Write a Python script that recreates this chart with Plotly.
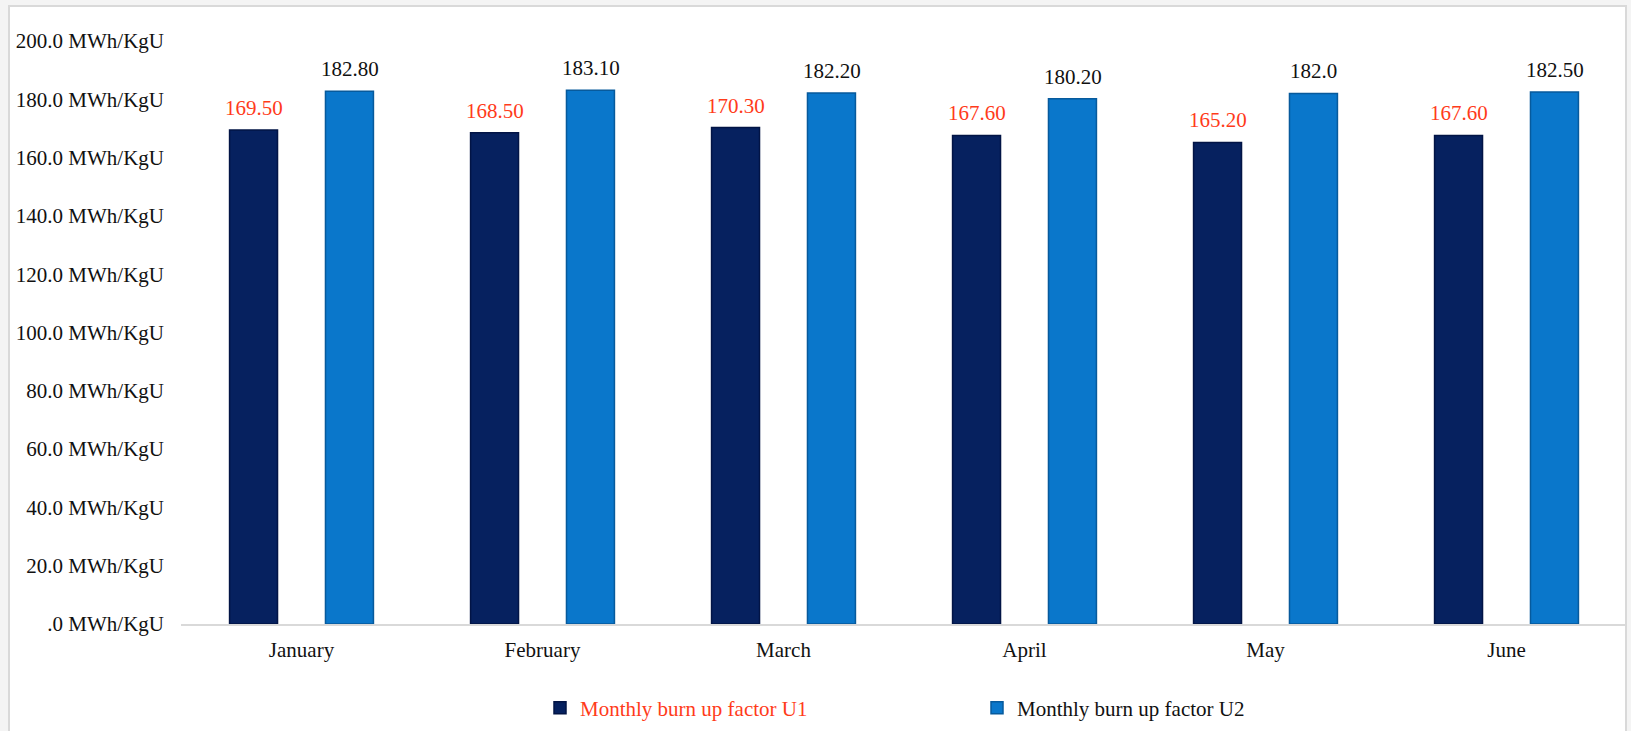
import plotly.graph_objects as go

months = ["January", "February", "March", "April", "May", "June"]
u1_values = [169.5, 168.5, 170.3, 167.6, 165.2, 167.6]
u2_values = [182.8, 183.1, 182.2, 180.2, 182.0, 182.5]
u1_labels = ["169.50", "168.50", "170.30", "167.60", "165.20", "167.60"]
u2_labels = ["182.80", "183.10", "182.20", "180.20", "182.0", "182.50"]
y_tickvals = [0, 20, 40, 60, 80, 100, 120, 140, 160, 180, 200]
y_ticktext = [".0 MWh/KgU", "20.0 MWh/KgU", "40.0 MWh/KgU", "60.0 MWh/KgU", "80.0 MWh/KgU",
              "100.0 MWh/KgU", "120.0 MWh/KgU", "140.0 MWh/KgU", "160.0 MWh/KgU",
              "180.0 MWh/KgU", "200.0 MWh/KgU"]

RED = "#ff3b1a"
FONT = "Liberation Serif, Times New Roman, serif"
W, H = 1631, 731
L, R, T, B = 181, 4, 41, 106
pw, ph = W - L - R, H - T - B

def px_x(px):
    return (px - L) / pw

def px_y(py):
    return (H - B - py) / ph

fig = go.Figure()
fig.add_trace(go.Bar(
    x=months, y=u1_values, name='<span style="color:%s">Monthly burn up factor U1</span>' % RED,
    marker=dict(color="#06215f", line=dict(color="#021445", width=1.5)),
))
fig.add_trace(go.Bar(
    x=months, y=u2_values, name="Monthly burn up factor U2",
    marker=dict(color="#0a77cb", line=dict(color="#075a9c", width=1.5)),
))

annotations = []
for m, v, t in zip(months, u1_values, u1_labels):
    annotations.append(dict(x=m, y=v, text=t, xref="x", yref="y", showarrow=False,
                            xshift=-48, yshift=8, yanchor="bottom",
                            font=dict(family=FONT, size=21, color=RED)))
for m, v, t in zip(months, u2_values, u2_labels):
    annotations.append(dict(x=m, y=v, text=t, xref="x", yref="y", showarrow=False,
                            xshift=48, yshift=8, yanchor="bottom",
                            font=dict(family=FONT, size=21, color="#111111")))

fig.update_layout(
    width=W, height=H,
    margin=dict(l=L, r=R, t=T, b=B, pad=0),
    paper_bgcolor="#f4f4f4",
    plot_bgcolor="rgba(0,0,0,0)",
    barmode="group", bargap=0.204, bargroupgap=0.5,
    font=dict(family=FONT, size=21, color="#111111"),
    showlegend=True,
    legend=dict(orientation="h", x=px_x(540), xanchor="left", y=px_y(708), yanchor="middle",
                entrywidth=392, entrywidthmode="pixels",
                font=dict(family=FONT, size=21, color="#111111"),
                bgcolor="rgba(0,0,0,0)"),
    annotations=annotations,
    shapes=[dict(type="rect", xref="paper", yref="paper",
                 x0=px_x(9), x1=px_x(1626), y0=px_y(740), y1=px_y(6),
                 fillcolor="white", line=dict(color="#d9d9d9", width=2), layer="below")],
    xaxis=dict(showgrid=False, zeroline=False, showline=True, linecolor="#d9d9d9", linewidth=2,
               ticks="", ticklabelstandoff=6,
               tickfont=dict(family=FONT, size=21, color="#111111")),
    yaxis=dict(range=[0, 200], showgrid=False, zeroline=False, showline=False,
               tickvals=y_tickvals, ticktext=y_ticktext, ticks="", ticklabelstandoff=16,
               tickfont=dict(family=FONT, size=21, color="#111111")),
)

fig.write_html("out.html")
